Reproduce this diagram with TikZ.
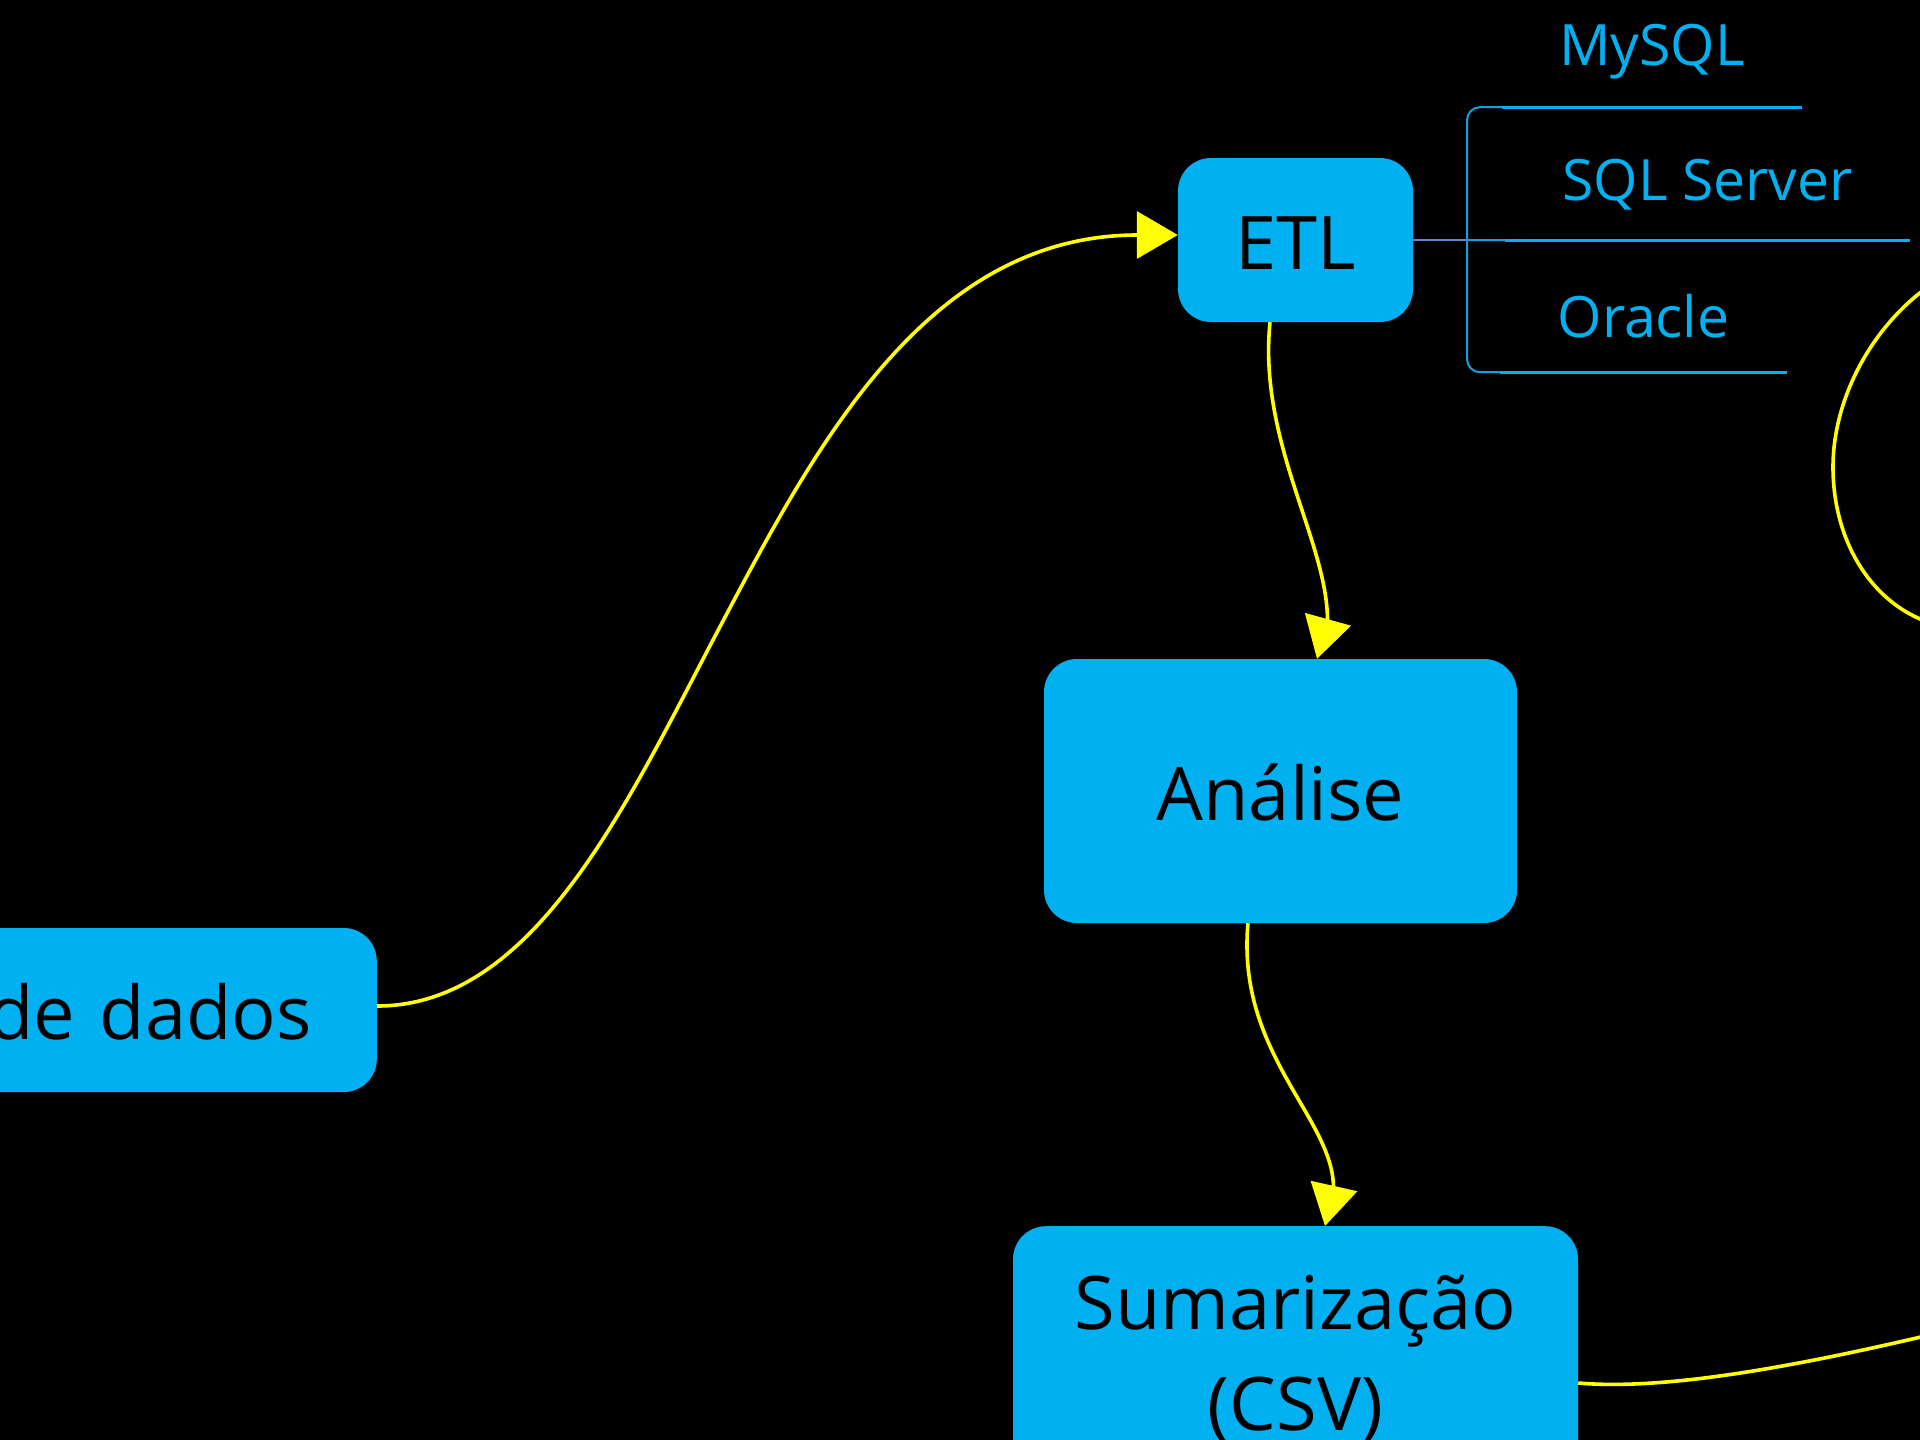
\documentclass[tikz,border=0pt]{standalone}
\usepackage{fontspec}
\setmainfont{Open Sans}
\usetikzlibrary{arrows.meta,calc}
\definecolor{boxc}{RGB}{0,176,240}
\definecolor{ylw}{RGB}{255,255,0}
\definecolor{linkc}{RGB}{95,130,210}
\definecolor{brk}{RGB}{20,160,220}
\begin{document}
\begin{tikzpicture}[x=1pt,y=-1pt,
  box/.style={fill=boxc, rounded corners=33pt, text=black,
    font=\fontsize{74}{101}\selectfont, text height=58pt, text depth=0pt,
    inner sep=0pt, align=center},
  flow/.style={draw=ylw, line width=3.6pt, -{Triangle[length=41pt,width=47pt]}},
  ylwline/.style={draw=ylw, line width=3.6pt},
  lbl/.style={text=boxc, font=\fontsize{57}{60}\selectfont, inner xsep=57pt,
    text height=40pt, text depth=0pt},
  uline/.style={draw=boxc, line width=3.4pt},
  brkline/.style={draw=brk, line width=2pt},
  linkline/.style={draw=linkc, line width=2pt}]
\path[use as bounding box, fill=black] (0,0) rectangle (1920,1440);
\clip (0,0) rectangle (1920,1440);

% main nodes
\node[box, minimum width=235pt, minimum height=164pt] (etl) at (1295.5,240) {ETL};
\node[box, minimum width=473pt, minimum height=264pt] (ana) at (1280.5,791) {Análise};
\node[box, anchor=east, text width=700pt, align=right, inner xsep=65pt,
      minimum height=164pt] (dd) at (377,1010) {de dados};
\node[box, anchor=north, text width=565pt, text height=103pt, text depth=250pt]
      (sum) at (1295.5,1226) {Sumarização\\(CSV)};

% labels on the right
\node[lbl, anchor=base, inner ysep=42pt] (mysql) at (1652,65) {MySQL};
\node[lbl, anchor=base, inner ysep=40pt] (sqls) at (1707.5,200) {SQL Server};
\node[lbl, anchor=base, inner ysep=35pt] (orcl) at (1643.5,337) {Oracle};
\foreach \n in {mysql,sqls,orcl} \draw[uline] (\n.south west) -- (\n.south east);

% bracket
\coordinate (bx) at (1467,240);
\draw[brkline, rounded corners=13pt] (mysql.south west) -- (mysql.south west -| bx)
  -- (orcl.south west -| bx) -- (orcl.south west);
\draw[brkline] (bx) -- (sqls.south west);
\draw[linkline] (etl.east) -- (bx);

% connectors
\coordinate (m1) at (723,621);
\draw[flow] ($(dd.east)+(0,-4)$) .. controls +(160,0) and +(-93.6,176.8) .. (m1)
  .. controls +(93.6,-176.8) and +(-250,0) .. ($(etl.west)+(0,-5)$);
\draw[flow] ($(etl.south)+(-25.5,0)$) .. controls +(-12,120) and +(0,-80) ..
  ($(ana.north)+(47,-38)$) -- ($(ana.north)+(36.5,0)$);
\draw[flow] ($(ana.south)+(-32.5,0)$) .. controls +(-12,130) and +(0,-70) ..
  ($(sum.north)+(38,-38)$) -- ($(sum.north)+(29.5,0)$);

\coordinate (out1) at (1925,1336);
\draw[ylwline] ($(sum.north east)+(0,157)$) .. controls +(81,7) and +(-145,34) .. (out1);

\coordinate (lp1) at (1925,289);
\coordinate (lp2) at (1833,467);
\coordinate (lp3) at (1925,621);
\draw[ylwline] (lp1) .. controls (1870,330) and (1833,400) .. (lp2)
  .. controls (1833,540) and (1870,600) .. (lp3);
\end{tikzpicture}
\end{document}
